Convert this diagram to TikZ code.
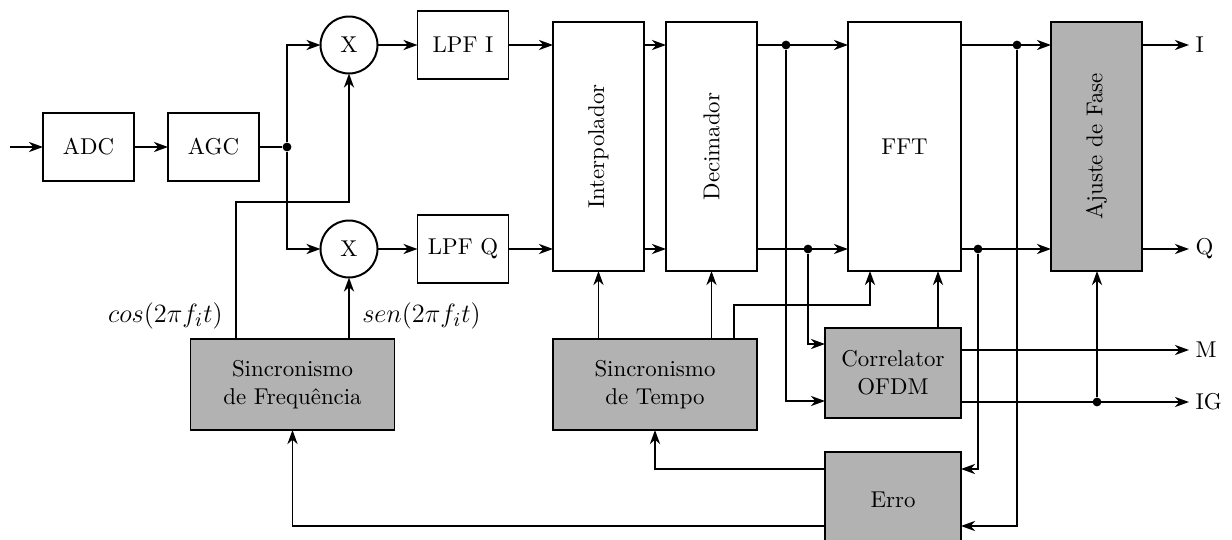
\documentclass[tikz,border=0pt]{standalone}
\usetikzlibrary{arrows.meta}
\def\pxl{0.4545pt}
\begin{document}
\begin{tikzpicture}[x=0.4545pt, y=-0.4545pt, line width=0.9pt,
  >={Stealth[length=6.4pt,width=4.6pt,inset=2pt]},
  sz/.style 2 args={minimum width=#1*\pxl, minimum height=#2*\pxl},
  blk/.style={draw, rectangle, inner sep=0pt, outer sep=0pt, align=center, font=\fontsize{10.4}{12.6}\selectfont},
  shd/.style={blk, fill=black!30},
  mix/.style={draw, circle, inner sep=0pt, outer sep=0pt, minimum size=57*\pxl, font=\fontsize{10.4}{12.6}\selectfont},
  dot/.style={circle, fill, inner sep=0pt, minimum size=4pt},
  lbl/.style={font=\fontsize{12.8}{15}\selectfont},
  outl/.style={anchor=west, inner sep=2.5pt, font=\fontsize{10.4}{12.6}\selectfont}]

\useasboundingbox (0,0) rectangle (1232,540);

% blocks
\node[blk, sz={91}{68}] (adc) at (88.5,147) {ADC};
\node[blk, sz={91}{68}] (agc) at (213.5,147) {AGC};
\node[mix] (mx1) at (349,45) {X};
\node[mix] (mx2) at (349,249) {X};
\node[blk, sz={91}{68}] (lpfi) at (463,45) {LPF I};
\node[blk, sz={91}{68}] (lpfq) at (463,249) {LPF Q};
\node[blk, sz={91}{249}] (interp) at (598.5,146.5) {\rotatebox{90}{Interpolador}};
\node[blk, sz={91}{249}] (dec) at (711.5,146.5) {\rotatebox{90}{Decimador}};
\node[blk, sz={113}{249}] (fft) at (904.5,146.5) {FFT};
\node[shd, sz={91}{249}] (ajf) at (1096.5,146.5) {\rotatebox{90}{Ajuste de Fase}};
\node[shd, sz={204}{91}] (sfreq) at (292.5,384.5) {Sincronismo\\de Frequência};
\node[shd, sz={204}{91}] (stemp) at (655,384.5) {Sincronismo\\de Tempo};
\node[shd, sz={136}{90}] (corr) at (893,373) {Correlator\\OFDM};
\node[shd, sz={136}{95}] (erro) at (893,499.5) {Erro};

% junction points
\node[dot] (j1) at (287,147) {};
\node[dot] (d1) at (786,45) {};
\node[dot] (d2) at (808,249) {};
\node[dot] (d3) at (1017,45) {};
\node[dot] (d4) at (978,249) {};
\node[dot] (d5) at (1097,402) {};

% auxiliary points
\coordinate (in) at (10,147);
\coordinate (cosup) at (236,202);
\coordinate (cosbot) at (236,339);
\coordinate (ci1) at (825,344);
\coordinate (ci2) at (825,401);
\coordinate (ei1) at (961,469);
\coordinate (ei2) at (961,526);
\coordinate (eo1) at (825,469);
\coordinate (eo2) at (825,526);
\coordinate (cm) at (961,350);
\coordinate (cig) at (961,402);
\coordinate (tbot) at (734,339);
\coordinate (tup) at (870,305);
\coordinate (oi) at (1189,45);
\coordinate (oq) at (1189,249);
\coordinate (om) at (1189,350);
\coordinate (oig) at (1189,402);

% front end
\draw[->] (in) -- (adc);
\draw[->] (adc) -- (agc);
\draw (agc) -- (j1);
\draw[->] (j1) |- (mx1);
\draw[->] (j1) |- (mx2);
\draw[->] (mx1) -- (lpfi);
\draw[->] (mx2) -- (lpfq);
\draw[->] (lpfi) -- (interp.west |- lpfi);
\draw[->] (lpfq) -- (interp.west |- lpfq);
\draw[->] (interp.east |- lpfi) -- (dec.west |- lpfi);
\draw[->] (interp.east |- lpfq) -- (dec.west |- lpfq);
\draw[->] (dec.east |- lpfi) -- (fft.west |- lpfi);
\draw[->] (dec.east |- lpfq) -- (fft.west |- lpfq);
\draw[->] (fft.east |- lpfi) -- (ajf.west |- lpfi);
\draw[->] (fft.east |- lpfq) -- (ajf.west |- lpfq);

% outputs
\draw[->] (ajf.east |- oi) -- (oi) node[outl] (li) {I};
\draw[->] (ajf.east |- oq) -- (oq) node[outl] (lq) {Q};
\draw[->] (cm) -- (om) node[outl] (lm) {M};
\draw[->] (cig) -- (oig) node[outl] (lig) {IG};
\draw[->] (d5) -- (ajf.south -| d5);

% taps into correlator and error blocks
\draw[->] (d1) |- (ci2);
\draw[->] (d2) |- (ci1);
\draw[->] (d3) |- (ei2);
\draw[->] (d4) |- (ei1);
\draw[->] (corr.north -| 938,0) -- (fft.south -| 938,0);

% timing synchronism
\draw[->] (stemp.north -| interp.south) -- (interp.south);
\draw[->] (stemp.north -| dec.south) -- (dec.south);
\draw[->] (tbot) |- (tup) -- (fft.south -| tup);

% frequency synchronism
\draw[->] (cosbot) -- (cosup) -| (mx1.south);
\draw[->] (sfreq.north -| mx2) -- (mx2.south);
\node[lbl, anchor=east] (lcos) at (231,316) {$cos(2\pi f_i t)$};
\node[lbl, anchor=west] (lsen) at (354,316) {$sen(2\pi f_i t)$};

% error feedback
\draw[->] (eo1) -| (stemp.south);
\draw[->] (eo2) -| (sfreq.south);
\end{tikzpicture}
\end{document}
